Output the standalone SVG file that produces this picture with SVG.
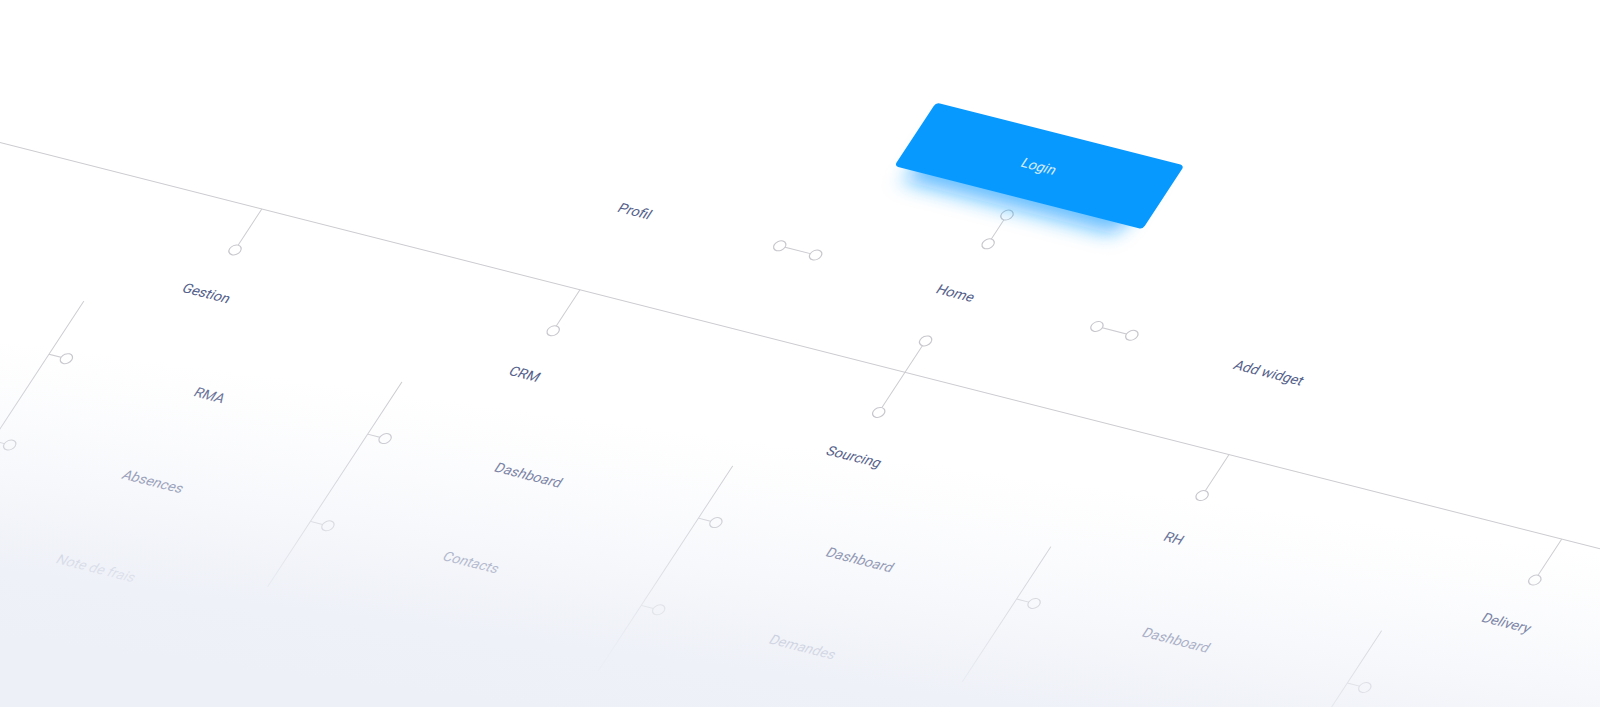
<svg xmlns="http://www.w3.org/2000/svg" width="1600" height="707" viewBox="0 0 1600 707">
  <style>
    .ln { stroke: #cbcbd0; stroke-width: 1; fill: none; }
    .dot { stroke: #c6c6cc; stroke-width: 1.1; fill: #ffffff; }
    .lbl { font-family: Roboto, "Liberation Sans", sans-serif; font-size: 14px; fill: #55618b; text-anchor: middle; }
    .sub { fill: #5f6a92; }
    .login-text { font-family: Roboto, "Liberation Sans", sans-serif; font-size: 14px; fill: #ffffff; fill-opacity: 0.85; text-anchor: middle; }
  </style>
  <defs>
    <filter id="glow" x="-40%" y="-80%" width="180%" height="300%">
      <feGaussianBlur stdDeviation="10"/>
    </filter>
    <linearGradient id="fog" gradientUnits="userSpaceOnUse" x1="800" y1="446.4" x2="760.8" y2="741.2">
      <stop offset="0" stop-color="#edf0f7" stop-opacity="0"/>
      <stop offset="0.267" stop-color="#edf0f7" stop-opacity="0.25"/>
      <stop offset="0.467" stop-color="#edf0f7" stop-opacity="0.5"/>
      <stop offset="0.65" stop-color="#edf0f7" stop-opacity="0.78"/>
      <stop offset="0.767" stop-color="#edf0f7" stop-opacity="0.93"/>
      <stop offset="1" stop-color="#edf0f7" stop-opacity="1"/>
    </linearGradient>
  </defs>
  <rect x="0" y="0" width="1600" height="707" fill="#ffffff"/>
  <g id="plane" transform="matrix(0.97 0.2464 -0.572 0.872 0 142.4)">
    <g id="connectors">
      <path class="ln" d="M -60 0 H 1720"/>
      <path class="ln" d="M 932 -174.5 V -152.5"/>
      <circle class="dot" cx="932" cy="-180" r="5.5"/>
      <circle class="dot" cx="932" cy="-147" r="5.5"/>
      <path class="ln" d="M 754.5 -93 H 780.5"/>
      <circle class="dot" cx="749" cy="-93" r="5.5"/>
      <circle class="dot" cx="786" cy="-93" r="5.5"/>
      <path class="ln" d="M 1081.5 -93 H 1106.5"/>
      <circle class="dot" cx="1076" cy="-93" r="5.5"/>
      <circle class="dot" cx="1112" cy="-93" r="5.5"/>
      <path class="ln" d="M 933 -30.5 V 40.5"/>
      <circle class="dot" cx="933" cy="-36" r="5.5"/>
      <circle class="dot" cx="933" cy="46" r="5.5"/>
      <path class="ln" d="M 270 0 V 41.5"/>
      <circle class="dot" cx="270" cy="47" r="5.5"/>
      <path class="ln" d="M 598 0 V 41.5"/>
      <circle class="dot" cx="598" cy="47" r="5.5"/>
      <path class="ln" d="M 1267 0 V 41.5"/>
      <circle class="dot" cx="1267" cy="47" r="5.5"/>
      <path class="ln" d="M 1610 0 V 41.5"/>
      <circle class="dot" cx="1610" cy="47" r="5.5"/>
      <path class="ln" d="M 166 135 V 470"/>
      <path class="ln" d="M 166 196 H 178.5 M 166 295 H 178.5 M 166 394 H 178.5"/>
      <circle class="dot" cx="184" cy="196" r="5.5"/>
      <circle class="dot" cx="184" cy="295" r="5.5"/>
      <circle class="dot" cx="184" cy="394" r="5.5"/>
      <path class="ln" d="M 494 135 V 370"/>
      <path class="ln" d="M 494 195 H 506.5 M 494 295 H 506.5"/>
      <circle class="dot" cx="512" cy="195" r="5.5"/>
      <circle class="dot" cx="512" cy="295" r="5.5"/>
      <path class="ln" d="M 835 135 V 370"/>
      <path class="ln" d="M 835 195 H 847.5 M 835 295 H 847.5"/>
      <circle class="dot" cx="853" cy="195" r="5.5"/>
      <circle class="dot" cx="853" cy="295" r="5.5"/>
      <path class="ln" d="M 1163 135 V 290"/>
      <path class="ln" d="M 1163 195 H 1175.5"/>
      <circle class="dot" cx="1181" cy="195" r="5.5"/>
      <path class="ln" d="M 1504 135 V 300"/>
      <path class="ln" d="M 1504 195 H 1516.5"/>
      <circle class="dot" cx="1522" cy="195" r="5.5"/>
    </g>
    <g id="node-login">
      <rect x="822" y="-248" width="220" height="60" rx="6" fill="#0a9bff" fill-opacity="0.65" filter="url(#glow)"/>
      <rect x="804" y="-273" width="256" height="73" rx="4" fill="#0899ff"/>
      <text class="login-text" x="932" y="-231">Login</text>
    </g>
    <g id="node-profil"><text class="lbl" x="601" y="-86">Profil</text></g>
    <g id="node-home"><text class="lbl" x="932" y="-85.5">Home</text></g>
    <g id="node-addwidget"><text class="lbl" x="1255" y="-85.5">Add widget</text></g>
    <g id="node-gestion"><text class="lbl" x="270" y="101.5">Gestion</text></g>
    <g id="node-crm"><text class="lbl" x="598" y="101.5">CRM</text></g>
    <g id="node-sourcing"><text class="lbl" x="937" y="100.5">Sourcing</text></g>
    <g id="node-rh"><text class="lbl" x="1267" y="101">RH</text></g>
    <g id="node-delivery"><text class="lbl" x="1610" y="101">Delivery</text></g>
    <g id="node-rma"><text class="lbl sub" x="332" y="201">RMA</text></g>
    <g id="node-absences"><text class="lbl sub" x="332" y="300">Absences</text></g>
    <g id="node-notedefrais"><text class="lbl sub" x="332" y="399.5">Note de frais</text></g>
    <g id="node-crm-dashboard"><text class="lbl sub" x="660" y="200">Dashboard</text></g>
    <g id="node-contacts"><text class="lbl sub" x="660" y="300">Contacts</text></g>
    <g id="node-sourcing-dashboard"><text class="lbl sub" x="1002" y="200.5">Dashboard</text></g>
    <g id="node-demandes"><text class="lbl sub" x="1002" y="300.5">Demandes</text></g>
    <g id="node-rh-dashboard"><text class="lbl sub" x="1328" y="200.5">Dashboard</text></g>
  </g>
  <rect x="0" y="0" width="1600" height="707" fill="url(#fog)"/>
</svg>
